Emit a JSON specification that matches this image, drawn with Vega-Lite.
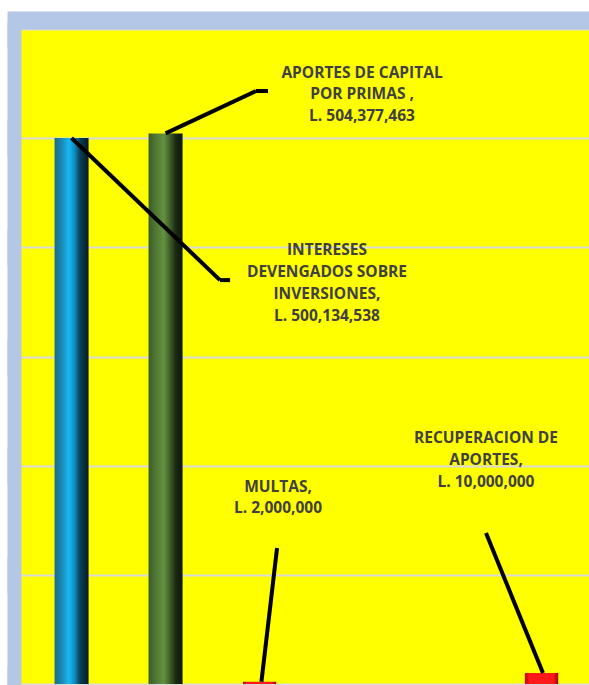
{
  "$schema": "https://vega.github.io/schema/vega-lite/v6.json",
  "width": 568,
  "height": 655,
  "autosize": {"type": "none"},
  "padding": {"left": 21, "top": 29, "right": 0, "bottom": 1},
  "background": "#FFFFFF",
  "config": {"view": {"fill": "#FFFF00", "stroke": null}},
  "data": {
    "values": [
      {"concepto": "INTERESES DEVENGADOS SOBRE INVERSIONES", "monto": 500134538, "etiqueta": "INTERESES\nDEVENGADOS SOBRE\nINVERSIONES,\nL. 500,134,538"},
      {"concepto": "APORTES DE CAPITAL POR PRIMAS", "monto": 504377463, "etiqueta": "APORTES DE CAPITAL\nPOR PRIMAS ,\nL. 504,377,463"},
      {"concepto": "MULTAS", "monto": 2000000, "etiqueta": "MULTAS,\nL. 2,000,000"},
      {"concepto": "RECUPERACION DE APORTES", "monto": 10000000, "etiqueta": "RECUPERACION DE\nAPORTES,\nL. 10,000,000"}
    ]
  },
  "encoding": {
    "x": {
      "field": "concepto",
      "type": "nominal",
      "scale": {
        "domain": ["INTERESES DEVENGADOS SOBRE INVERSIONES", "APORTES DE CAPITAL POR PRIMAS", "MULTAS", "(vacío 1)", "(vacío 2)", "RECUPERACION DE APORTES"],
        "paddingInner": 0,
        "paddingOuter": 0.0213,
        "align": 0.89
      },
      "axis": {
        "orient": "top",
        "title": null,
        "labels": false,
        "ticks": false,
        "grid": false,
        "domainColor": "#B4C7E7",
        "domainWidth": 18,
        "domainCap": "square",
        "offset": 9
      }
    },
    "y": {
      "field": "monto",
      "type": "quantitative",
      "scale": {"domain": [0, 600000000], "nice": false, "zero": true},
      "axis": {
        "title": null,
        "labels": false,
        "values": [0, 100000000, 200000000, 300000000, 400000000, 500000000, 600000000],
        "grid": true,
        "gridColor": "#D9D9D9",
        "gridWidth": 2,
        "domainColor": "#B4C7E7",
        "domainWidth": 14,
        "domainCap": "square",
        "offset": 7,
        "tickColor": "#B4C7E7",
        "tickSize": 7,
        "tickWidth": 36,
        "tickCap": "butt"
      }
    }
  },
  "layer": [
    {
      "transform": [{"filter": "datum.concepto == 'INTERESES DEVENGADOS SOBRE INVERSIONES'"}],
      "mark": {
        "type": "bar",
        "width": {"band": 0.362},
        "color": {"gradient": "linear", "x1": 0, "x2": 1, "y1": 0, "y2": 0,
          "stops": [
            {"offset": 0, "color": "#1A6A8A"},
            {"offset": 0.2, "color": "#1B86B0"},
            {"offset": 0.42, "color": "#18B8F2"},
            {"offset": 0.58, "color": "#0E8FC2"},
            {"offset": 0.75, "color": "#0A3F57"},
            {"offset": 1, "color": "#071A24"}
          ]}
      }
    },
    {
      "transform": [{"filter": "datum.concepto == 'APORTES DE CAPITAL POR PRIMAS'"}],
      "mark": {
        "type": "bar",
        "width": {"band": 0.362},
        "color": {"gradient": "linear", "x1": 0, "x2": 1, "y1": 0, "y2": 0,
          "stops": [
            {"offset": 0, "color": "#3A5A2A"},
            {"offset": 0.2, "color": "#4E7634"},
            {"offset": 0.45, "color": "#62913F"},
            {"offset": 0.6, "color": "#44672C"},
            {"offset": 0.8, "color": "#1A2A12"},
            {"offset": 1, "color": "#0D160A"}
          ]}
      }
    },
    {
      "transform": [{"filter": "datum.concepto == 'MULTAS' || datum.concepto == 'RECUPERACION DE APORTES'"}],
      "mark": {
        "type": "bar",
        "width": {"band": 0.355},
        "color": {"gradient": "linear", "x1": 0, "x2": 1, "y1": 0, "y2": 0,
          "stops": [
            {"offset": 0, "color": "#C00000"},
            {"offset": 0.15, "color": "#FF1A1A"},
            {"offset": 0.85, "color": "#FF1A1A"},
            {"offset": 1, "color": "#A00000"}
          ]}
      }
    },
    {
      "transform": [{"filter": "datum.concepto == 'APORTES DE CAPITAL POR PRIMAS'"}],
      "mark": {"type": "rule", "color": "#000000", "strokeWidth": 4},
      "encoding": {
        "x2": {"datum": "MULTAS", "bandPosition": 0.462},
        "y2": {"datum": 543200000}
      }
    },
    {
      "transform": [{"filter": "datum.concepto == 'APORTES DE CAPITAL POR PRIMAS'"}],
      "mark": {"type": "rule", "color": "#000000", "strokeWidth": 4},
      "encoding": {
        "x": {"datum": "MULTAS", "bandPosition": 0.462},
        "x2": {"datum": "MULTAS", "bandPosition": 0.59},
        "y": {"datum": 543200000}
      }
    },
    {
      "transform": [{"filter": "datum.concepto == 'INTERESES DEVENGADOS SOBRE INVERSIONES'"}],
      "mark": {"type": "rule", "color": "#000000", "strokeWidth": 4},
      "encoding": {
        "x2": {"datum": "MULTAS", "bandPosition": 0.079},
        "y2": {"datum": 370000000}
      }
    },
    {
      "transform": [{"filter": "datum.concepto == 'INTERESES DEVENGADOS SOBRE INVERSIONES'"}],
      "mark": {"type": "rule", "color": "#000000", "strokeWidth": 4},
      "encoding": {
        "x": {"datum": "MULTAS", "bandPosition": 0.079},
        "x2": {"datum": "MULTAS", "bandPosition": 0.186},
        "y": {"datum": 370000000}
      }
    },
    {
      "transform": [{"filter": "datum.concepto == 'MULTAS'"}],
      "mark": {"type": "rule", "color": "#000000", "strokeWidth": 4},
      "encoding": {
        "x": {"datum": "MULTAS", "bandPosition": 0.686},
        "y": {"datum": 124600000},
        "x2": {"datum": "MULTAS", "bandPosition": 0.52},
        "y2": {"field": "monto"}
      }
    },
    {
      "transform": [{"filter": "datum.concepto == 'RECUPERACION DE APORTES'"}],
      "mark": {"type": "rule", "color": "#000000", "strokeWidth": 4},
      "encoding": {
        "x": {"datum": "(vacío 2)", "bandPosition": 0.909},
        "y": {"datum": 138300000},
        "x2": {"datum": "RECUPERACION DE APORTES", "bandPosition": 0.515},
        "y2": {"field": "monto"}
      }
    },
    {
      "transform": [{"filter": "datum.concepto == 'APORTES DE CAPITAL POR PRIMAS'"}],
      "mark": {"type": "text", "font": "Open Sans", "fontWeight": "bold", "fontSize": 15.5, "color": "#404040", "lineBreak": "\n", "lineHeight": 21.7, "align": "center", "baseline": "middle"},
      "encoding": {
        "x": {"datum": "(vacío 1)", "bandPosition": 0.59},
        "y": {"datum": 559900000},
        "text": {"field": "etiqueta"}
      }
    },
    {
      "transform": [{"filter": "datum.concepto == 'INTERESES DEVENGADOS SOBRE INVERSIONES'"}],
      "mark": {"type": "text", "font": "Open Sans", "fontWeight": "bold", "fontSize": 15.5, "color": "#404040", "lineBreak": "\n", "lineHeight": 22.2, "align": "center", "baseline": "middle"},
      "encoding": {
        "x": {"datum": "(vacío 1)", "bandPosition": 0.217},
        "y": {"datum": 398000000},
        "text": {"field": "etiqueta"}
      }
    },
    {
      "transform": [{"filter": "datum.concepto == 'MULTAS'"}],
      "mark": {"type": "text", "font": "Open Sans", "fontWeight": "bold", "fontSize": 15.5, "color": "#404040", "lineBreak": "\n", "lineHeight": 21.8, "align": "center", "baseline": "middle"},
      "encoding": {
        "x": {"datum": "MULTAS", "bandPosition": 0.696},
        "y": {"datum": 180900000},
        "text": {"field": "etiqueta"}
      }
    },
    {
      "transform": [{"filter": "datum.concepto == 'RECUPERACION DE APORTES'"}],
      "mark": {"type": "text", "font": "Open Sans", "fontWeight": "bold", "fontSize": 15.5, "color": "#404040", "lineBreak": "\n", "lineHeight": 22, "align": "center", "baseline": "middle"},
      "encoding": {
        "x": {"datum": "(vacío 2)", "bandPosition": 0.909},
        "y": {"datum": 225800000},
        "text": {"field": "etiqueta"}
      }
    }
  ]
}
